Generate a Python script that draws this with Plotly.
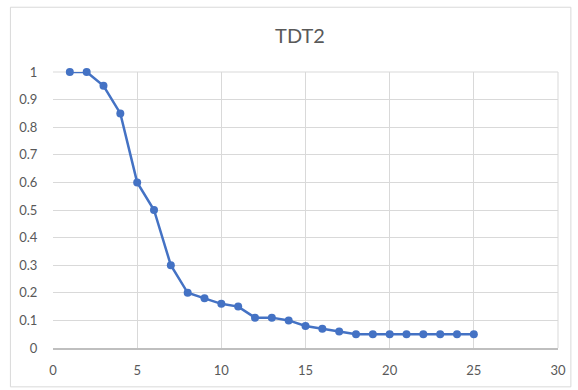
import plotly.graph_objects as go

# Series data
steps = list(range(1, 26))
values = [1, 1, 0.95, 0.85, 0.6, 0.5, 0.3, 0.2, 0.18, 0.16, 0.15, 0.11, 0.11, 0.1,
          0.08, 0.07, 0.06, 0.05, 0.05, 0.05, 0.05, 0.05, 0.05, 0.05, 0.05]

x_ticks = [0, 5, 10, 15, 20, 25, 30]
y_ticks = [0, 0.1, 0.2, 0.3, 0.4, 0.5, 0.6, 0.7, 0.8, 0.9, 1]
y_labels = ["0", "0.1", "0.2", "0.3", "0.4", "0.5", "0.6", "0.7", "0.8", "0.9", "1"]

W, H = 578, 390
L, R, T, B = 53, 15, 72, 41
pw, ph = W - L - R, H - T - B

BLUE = "#4472C4"
GRID = "#D9D9D9"
TEXT = "#595959"
FONT = "Lato, 'Open Sans', sans-serif"

fig = go.Figure()
fig.add_trace(go.Scatter(
    x=steps, y=values, mode="lines+markers",
    line=dict(color=BLUE, width=2.5),
    marker=dict(color=BLUE, size=8),
    cliponaxis=False,
    showlegend=False,
))

# Chart-area border
fig.add_shape(type="rect", xref="paper", yref="paper",
              x0=(10 - L) / pw, x1=(576 - L) / pw,
              y0=-(388 - (T + ph)) / ph, y1=(T + ph - 7) / ph,
              line=dict(color="#D9D9D9", width=1), layer="below")

fig.update_layout(
    width=W, height=H,
    margin=dict(l=L, r=R, t=T, b=B),
    paper_bgcolor="white", plot_bgcolor="white",
    title=dict(text="TDT2", x=300 / W, xanchor="center", y=1 - 36 / H, yanchor="middle",
               font=dict(family=FONT, size=20, color=TEXT)),
    font=dict(family=FONT, size=13, color=TEXT),
    xaxis=dict(range=[0, 30], tickvals=x_ticks, ticktext=[str(v) for v in x_ticks],
               showgrid=True, gridcolor=GRID, gridwidth=1, zeroline=False,
               showline=True, linecolor="#BFBFBF", linewidth=1.5,
               ticks="outside", ticklen=10, tickcolor="rgba(0,0,0,0)",
               tickfont=dict(size=13, color=TEXT), fixedrange=True),
    yaxis=dict(range=[0, 1], tickvals=y_ticks, ticktext=y_labels,
               showgrid=True, gridcolor=GRID, gridwidth=1, zeroline=False,
               showline=False,
               ticks="outside", ticklen=12, tickcolor="rgba(0,0,0,0)",
               tickfont=dict(size=13, color=TEXT), fixedrange=True),
)
fig.add_shape(type="line", xref="paper", yref="paper", x0=1, x1=1, y0=0, y1=1,
              line=dict(color=GRID, width=1), layer="below")
fig.add_shape(type="line", xref="paper", yref="paper", x0=0, x1=1, y0=1, y1=1,
              line=dict(color=GRID, width=1), layer="below")

fig.write_html("out.html")
